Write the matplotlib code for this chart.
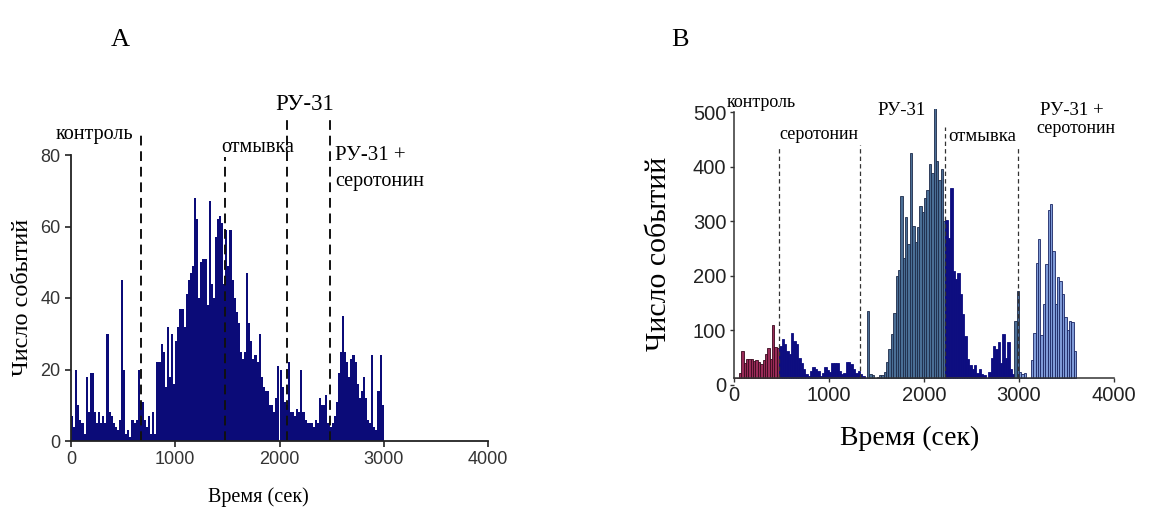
import numpy as np
import matplotlib.pyplot as plt

# ---- данные, панель A (шаг 20 с, 0-3000 с) ----
a_bin = 20
a_counts = [
    7, 4, 20, 10, 6,
    5, 2, 18, 8, 19,
    19, 8, 5, 8, 5,
    7, 5, 30, 8, 7,
    5, 4, 3, 6, 45,
    20, 2, 3, 1, 6,
    5, 6, 20, 11, 11,
    6, 4, 7, 2, 8,
    2, 22, 22, 27, 25,
    15, 32, 18, 30, 16,
    28, 32, 37, 37, 32,
    41, 45, 47, 49, 68,
    62, 40, 50, 51, 51,
    38, 67, 44, 40, 57,
    62, 63, 61, 44, 59,
    49, 59, 45, 40, 36,
    33, 25, 23, 25, 47,
    33, 28, 23, 24, 22,
    30, 18, 15, 14, 14,
    10, 10, 8, 12, 21,
    20, 15, 11, 10, 22,
    8, 8, 7, 9, 8,
    20, 8, 6, 5, 5,
    5, 4, 6, 5, 12,
    10, 10, 13, 5, 4,
    5, 7, 11, 19, 25,
    35, 25, 22, 18, 23,
    24, 22, 16, 12, 14,
    18, 12, 6, 5, 24,
    4, 3, 14, 24, 10,
]
a_lines = [671, 1477, 2070, 2484]
a_line_tops = [87, 79.5, 90, 90]

# ---- данные, панель B (шаг 25 с, 0-3600 с) ----
b_bin = 25
b_control = [2, 12, 22, 62, 40, 47, 47, 48, 44, 45, 42, 38, 45, 57, 67, 48, 110, 70, 68]
b_sero = [72, 84, 75, 62, 56, 96, 80, 76, 50, 40, 29, 20, 17, 26, 33, 29, 26, 17,
          22, 33, 28, 24, 41, 41, 41, 26, 20, 22, 43, 43, 38, 29, 22, 26, 20]
b_gap = [17, 12, 135, 20, 18, 12, 14, 18]
b_ru31 = [18, 24, 42, 66, 93, 132, 199, 211, 346, 232, 307, 259, 425, 292, 262,
          289, 328, 316, 343, 358, 404, 389, 511, 410, 376, 395, 300]
b_wash = [303, 270, 361, 209, 194, 205, 167, 130, 90, 48, 36, 30, 36, 22, 30, 20,
          18, 12, 24, 50, 72, 66, 78, 40, 93, 50, 78, 30, 20, 118, 172]
b_ru31_sero = [24, 20, 22, 12, 0, 45, 95, 224, 267, 91, 148, 221, 320, 332, 245,
               148, 197, 191, 167, 124, 100, 117, 115, 62]
b_counts = b_control + b_sero + b_gap + b_ru31 + b_wash + b_ru31_sero
# цвет по участкам: (число столбцов, вид)
b_segments = [(19, "control"), (37, "navy"), (33, "steel"), (29, "navy"), (2, "steel"), (24, "light")]
b_lines = [475, 1327, 2218, 2993]
b_line_tops = [436, 440, 472, 434]
b_base = 12

fill = {"control": "#9a2b58", "navy": "#0d0d80", "steel": "#4a6e95", "light": "#7f9bd8"}
edge = {"control": "#3a0a1e", "navy": "#0d0d80", "steel": "#1d2b4a", "light": "#1b2764"}

serif = "Liberation Serif"
sans = "Liberation Sans"

W, H = 1174, 509
fig = plt.figure(figsize=(W / 100, H / 100), dpi=100)


def px_axes(x0, x1, ytop, ybot):
    return fig.add_axes([x0 / W, 1 - ybot / H, (x1 - x0) / W, (ybot - ytop) / H])


# ================= A =================
axA = px_axes(71, 488, 155, 441)
a_x = np.arange(len(a_counts)) * a_bin
axA.bar(a_x, a_counts, width=a_bin, align="edge", color="#0b0b78", linewidth=0)
axA.set_xlim(0, 4000)
axA.set_ylim(0, 80)
axA.set_xticks([0, 1000, 2000, 3000, 4000])
axA.set_yticks([0, 20, 40, 60, 80])
for s in ["top", "right"]:
    axA.spines[s].set_visible(False)
for s in ["left", "bottom"]:
    axA.spines[s].set_linewidth(1.3)
    axA.spines[s].set_color("#222222")
axA.tick_params(direction="out", length=4, width=1.2, color="#222222",
                labelsize=13, labelcolor="#333333")
for lab in axA.get_xticklabels() + axA.get_yticklabels():
    lab.set_family(sans)
for x, top in zip(a_lines, a_line_tops):
    axA.plot([x, x], [0, top], ls=(0, (5, 3)), color="#111111", lw=1.4, clip_on=False)

axA.text(220, 85.6, "контроль", family=serif, fontsize=14.5, ha="center", va="center")
axA.text(1795, 82.2, "отмывка", family=serif, fontsize=14.5, ha="center", va="center")
axA.text(2245, 94, "РУ-31", family=serif, fontsize=16.5, ha="center", va="center")
axA.text(2535, 80, "РУ-31 +", family=serif, fontsize=15, ha="left", va="center")
axA.text(2535, 72.5, "серотонин", family=serif, fontsize=14.5, ha="left", va="center")

fig.text(258 / W, 1 - 497 / H, "Время (сек)", family=serif, fontsize=14.5, ha="center", va="center")
fig.text(23 / W, 1 - 297 / H, "Число событий", family=serif, fontsize=17.5,
         rotation=90, ha="center", va="center")

# ================= B =================
ylimB = 505
axB = px_axes(734, 1114, 385 - ylimB * 273 / 500, 385)
kinds = []
for n, k in b_segments:
    kinds += [k] * n
b_x = np.arange(len(b_counts)) * b_bin
heights = np.maximum(np.array(b_counts) - b_base, 0)
axB.bar(b_x, heights, bottom=b_base, width=b_bin, align="edge",
        color=[fill[k] for k in kinds], edgecolor=[edge[k] for k in kinds], linewidth=0.6)
axB.set_xlim(0, 4000)
axB.set_ylim(0, ylimB)
axB.set_xticks([0, 1000, 2000, 3000, 4000])
axB.set_yticks([0, 100, 200, 300, 400, 500])
for s in ["top", "right"]:
    axB.spines[s].set_visible(False)
axB.spines["bottom"].set_position(("data", b_base))
axB.spines["bottom"].set_bounds(0, 4000)
axB.spines["left"].set_bounds(b_base, 500)
for s in ["left", "bottom"]:
    axB.spines[s].set_linewidth(1.1)
    axB.spines[s].set_color("#333333")
axB.tick_params(direction="out", length=3, width=1.0, color="#333333",
                labelsize=14.5, labelcolor="#222222", pad=2.5)
for lab in axB.get_xticklabels() + axB.get_yticklabels():
    lab.set_family(sans)
for x, top in zip(b_lines, b_line_tops):
    axB.plot([x, x], [b_base, top], ls=(0, (3.5, 2.5)), color="#333333", lw=0.9, clip_on=False)

axB.text(282, 518, "контроль", family=serif, fontsize=13, ha="center", va="center")
axB.text(894, 458, "серотонин", family=serif, fontsize=13, ha="center", va="center")
axB.text(1768, 503, "РУ-31", family=serif, fontsize=13.5, ha="center", va="center")
axB.text(2616, 455, "отмывка", family=serif, fontsize=13.5, ha="center", va="center")
axB.text(3560, 503, "РУ-31 +", family=serif, fontsize=13.5, ha="center", va="center")
axB.text(3600, 470, "серотонин", family=serif, fontsize=13, ha="center", va="center")

fig.text(910 / W, 1 - 438 / H, "Время (сек)", family=serif, fontsize=20, ha="center", va="center")
fig.text(659 / W, 1 - 254 / H, "Число событий", family=serif, fontsize=21.5,
         rotation=90, ha="center", va="center")

# ---- подписи панелей ----
fig.text(120 / W, 1 - 40 / H, "A", family=serif, fontsize=19, ha="center", va="center")
fig.text(680 / W, 1 - 40 / H, "B", family=serif, fontsize=19, ha="center", va="center")

fig.savefig("out.png", dpi=100)
